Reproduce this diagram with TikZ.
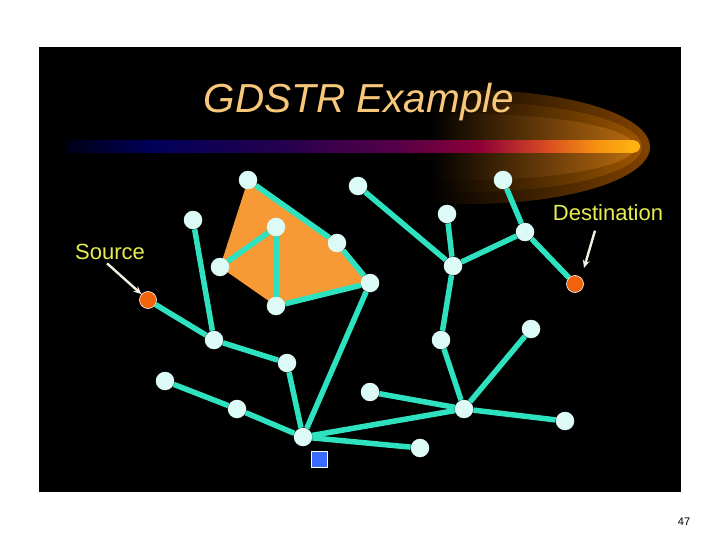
\documentclass[tikz,border=0pt]{standalone}
\usepackage{fontspec}
\setmainfont{Liberation Sans}
\usetikzlibrary{arrows.meta}

\pgfdeclarelayer{back}
\pgfdeclarelayer{mid}
\pgfsetlayers{back,mid,main}

\definecolor{titlecol}{HTML}{F8C87A}
\definecolor{labelcol}{HTML}{E6EC52}
\definecolor{arrowcol}{HTML}{F4F0E2}
\definecolor{linkcol}{HTML}{2EE2C0}
\definecolor{sitecol}{HTML}{DDFBF6}
\definecolor{endcol}{HTML}{F2640C}
\definecolor{facecol}{HTML}{F79A35}
\definecolor{sinkcol}{HTML}{3A6BFF}
\definecolor{glowa}{HTML}{864600}
\definecolor{glowb}{HTML}{AC5E00}
\definecolor{glowc}{HTML}{D07812}
\definecolor{barA}{HTML}{000014}
\definecolor{barB}{HTML}{00005A}
\definecolor{barC}{HTML}{24004E}
\definecolor{barD}{HTML}{580048}
\definecolor{barE}{HTML}{8E0036}
\definecolor{barF}{HTML}{D84A22}
\definecolor{barG}{HTML}{F59010}
\definecolor{barH}{HTML}{FFB212}

\begin{document}
\begin{tikzpicture}[x=1pt, y=-1pt, >={Stealth[length=8pt, width=7pt]},
    site/.style={circle, fill=sitecol, inner sep=0pt, minimum size=18.5pt},
    endsite/.style={circle, fill=endcol, draw=white, line width=0.6pt, inner sep=0pt, minimum size=17pt},
    link/.style={linkcol, line width=5.5pt},
    pointer/.style={->, draw=arrowcol, line width=2.4pt},
    caption/.style={text=labelcol, font=\fontsize{22}{26}\selectfont}]

    % Define variables
    \def\W{720}
    \def\H{540}
    \def\Bar{146.5}

    \useasboundingbox (0,0) rectangle (\W,\H);

    % Draw slide background, glow and bar
    \begin{pgfonlayer}{back}
        \fill[white] (0,0) rectangle (\W,\H);
        \fill[black] (39,47) rectangle (681,492);
        \foreach \rx/\ry/\c in {180/57/glowa, 172/45/glowb, 165/33/glowc} {
            \begin{scope}
                \clip (470,147) ellipse [x radius=\rx pt, y radius=\ry pt];
                \shade[left color=black, right color=\c] (430,80) rectangle (660,215);
            \end{scope}
        }
        \foreach \xa/\xb/\ca/\cb in {65/150.5/barA/barB, 150/280.5/barB/barC, 280/400.5/barC/barD,
                400/480.5/barD/barE, 480/545.5/barE/barF, 545/595.5/barF/barG, 595/634/barG/barH}
            \shade[left color=\ca, right color=\cb] (\xa,\Bar-6) rectangle (\xb,\Bar+6);
        \fill[barH] (634,\Bar) circle (6pt);
    \end{pgfonlayer}

    % Title
    \node[text=titlecol, font=\fontsize{40.5}{48}\selectfont\itshape, anchor=base] (title) at (359,113) {GDSTR Example};

    % Sensor nodes
    \foreach \name/\x/\y in {a/248/180, b/193/220, c/276/227, d/220/267, e/337/243, f/370/283,
            g/276/306, h/358/186, i/447/214, j/503/180, k/525/232, l/453/266, m/214/340,
            n/287/363, o/165/381, p/237/409, q/303/437, r/370/392, s/464/409, t/420/448,
            u/441/340, v/531/329, w/565/421}
        \node[site] (\name) at (\x,\y) {};

    \node[endsite] (src) at (148,300) {};
    \node[endsite] (dst) at (575,284) {};
    \node[draw=white, fill=sinkcol, line width=0.6pt, inner sep=0pt, minimum size=16pt] (sink) at (319,459) {};

    % Face and links
    \begin{pgfonlayer}{mid}
        \fill[facecol] (a.center) -- (e.center) -- (f.center) -- (g.center) -- (d.center) -- cycle;
        \foreach \u/\v in {a/e, e/f, d/c, c/g, g/f, b/m, src/m, m/n, n/q, o/p, p/q, q/f,
                q/s, q/t, r/s, s/u, u/l, s/v, s/w, h/l, i/l, l/k, k/j, k/dst}
            \draw[link] (\u) -- (\v);
    \end{pgfonlayer}

    % Labels
    \node[caption] (srclabel) at (110,252) {Source};
    \node[caption] (dstlabel) at (608,213) {Destination};
    \draw[pointer] ([xshift=-3pt]srclabel.south) -- (src);
    \draw[pointer] ([xshift=-13pt, yshift=-6pt]dstlabel.south) -- ([shift={(9,-16)}]dst.center);

    % Page number
    \node[font=\fontsize{11}{13}\selectfont] (pagenum) at (684,522) {47};

\end{tikzpicture}
\end{document}
